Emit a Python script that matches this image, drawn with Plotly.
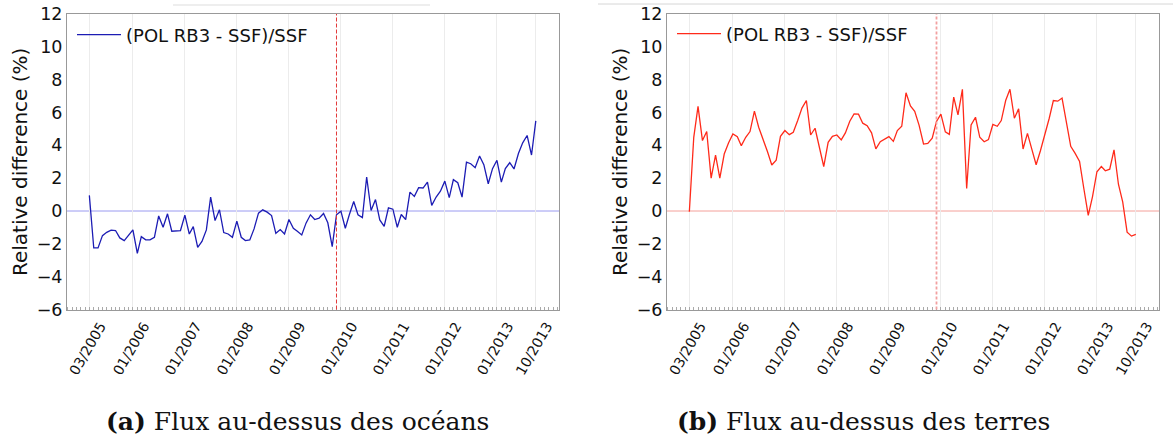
import pandas as pd
import plotly.graph_objects as go

# monthly values, 03/2005 -> 10/2013
months = pd.date_range("2005-03-01", "2013-10-01", freq="MS")

ocean_diff = [
    0.95, -2.25, -2.25, -1.50, -1.30, -1.17, -1.19, -1.64, -1.80, -1.46,
    -1.15, -2.58, -1.56, -1.76, -1.76, -1.60, -0.30, -0.99, -0.17, -1.23,
    -1.19, -1.19, -0.25, -1.40, -0.95, -2.21, -1.85, -1.15, 0.85, -0.58,
    0.07, -1.31, -1.40, -1.60, -0.62, -1.60, -1.80, -1.76, -1.09, -0.13,
    0.07, -0.07, -0.28, -1.36, -1.13, -1.40, -0.52, -1.05, -1.23, -1.46,
    -0.74, -0.23, -0.52, -0.44, -0.15, -0.72, -2.17, -0.23, -0.01, -1.05,
    -0.23, 0.58, -0.23, -0.40, 2.07, 0.03, 0.70, -0.54, -0.93, 0.19,
    0.11, -0.99, -0.21, -0.52, 1.15, 0.89, 1.42, 1.40, 1.76, 0.34,
    0.85, 1.21, 1.82, 0.81, 1.91, 1.72, 0.85, 2.97, 2.88, 2.64,
    3.35, 2.82, 1.66, 2.58, 3.09, 1.76, 2.58, 2.94, 2.56, 3.50,
    4.15, 4.60, 3.41, 5.49,
]

land_diff = [
    -0.05, 4.49, 6.37, 4.29, 4.84, 2.00, 3.41, 2.00, 3.47, 4.14,
    4.69, 4.53, 3.98, 4.49, 4.84, 6.08, 5.10, 4.39, 3.61, 2.80,
    3.10, 4.55, 4.90, 4.65, 4.80, 5.51, 6.27, 6.73, 4.63, 5.04,
    3.88, 2.71, 4.18, 4.55, 4.63, 4.33, 4.76, 5.47, 5.92, 5.90,
    5.35, 5.20, 4.76, 3.78, 4.22, 4.39, 4.53, 4.24, 4.90, 5.16,
    7.20, 6.40, 6.07, 5.22, 4.08, 4.12, 4.43, 5.45, 5.90, 4.82,
    4.67, 6.94, 5.86, 7.41, 1.37, 5.24, 5.71, 4.49, 4.22, 4.35,
    5.27, 5.16, 5.51, 6.73, 7.41, 5.65, 6.22, 3.78, 4.73, 3.78,
    2.82, 3.67, 4.59, 5.65, 6.73, 6.69, 6.88, 5.41, 3.94, 3.51,
    3.02, 1.37, -0.27, 0.88, 2.39, 2.71, 2.45, 2.55, 3.73, 1.63,
    0.55, -1.29, -1.53, -1.43,
]

tick_dates = ["2005-03-01", "2006-01-01", "2007-01-01", "2008-01-01", "2009-01-01",
              "2010-01-01", "2011-01-01", "2012-01-01", "2013-01-01", "2013-10-01"]
tick_labels = ["03/2005", "01/2006", "01/2007", "01/2008", "01/2009",
               "01/2010", "01/2011", "01/2012", "01/2013", "10/2013"]
split_date = "2009-12-01"
series_name = "(POL RB3 - SSF)/SSF"
captions = ["<b>(a)</b> Flux au-dessus des océans", "<b>(b)</b> Flux au-dessus des terres"]

W, H = 1173, 441
x_range = ["2004-09-25", "2014-03-13"]


def fx(p):
    return p / W


def fy(p):
    return 1 - p / H


fig = go.Figure()
fig.add_trace(go.Scatter(
    x=months, y=ocean_diff, mode="lines", name=series_name, showlegend=True,
    line=dict(color="#1c1cb4", width=1.3), xaxis="x", yaxis="y", legend="legend",
))
fig.add_trace(go.Scatter(
    x=months, y=land_diff, mode="lines", name=series_name, showlegend=True,
    line=dict(color="#ff2a1a", width=1.3), xaxis="x2", yaxis="y2", legend="legend2",
))

xcommon = dict(
    type="date", range=x_range, tickmode="array", tickvals=tick_dates, ticktext=tick_labels,
    tickangle=-60, tickfont=dict(family="DejaVu Sans", size=14, color="#111"),
    showgrid=True, gridcolor="#ececec", gridwidth=1,
    showline=True, linecolor="#999", linewidth=1, mirror=True, ticks="",
    ticklabelshift=11, ticklabelstandoff=2, automargin=False,
    minor=dict(tickmode="linear", tick0="2005-03-01", dtick="M1", ticks="inside",
               ticklen=3, tickcolor="#aaa", showgrid=False),
    zeroline=False,
)
ycommon = dict(
    range=[-6, 12], dtick=2, tick0=0, showgrid=False, automargin=False,
    tickfont=dict(family="DejaVu Sans", size=17.5, color="#111"),
    ticklabeloverflow="allow",
    showline=True, linecolor="#999", linewidth=1, mirror=True, ticks="",
    zeroline=False,
)

legend_style = dict(xanchor="left", yanchor="middle", itemwidth=44, bgcolor="rgba(0,0,0,0)",
                    font=dict(family="DejaVu Sans", size=18, color="#111"))

fig.update_layout(
    width=W, height=H, margin=dict(l=0, r=0, t=0, b=0, autoexpand=False),
    paper_bgcolor="white", plot_bgcolor="white", showlegend=True,
    xaxis=dict(domain=[fx(67), fx(559)], anchor="y", **xcommon),
    xaxis2=dict(domain=[fx(667), fx(1159)], anchor="y2", **xcommon),
    yaxis=dict(domain=[fy(309.5), fy(14)], anchor="x", **ycommon),
    yaxis2=dict(domain=[fy(309.5), fy(14)], anchor="x2", **ycommon),
    legend=dict(x=fx(72), y=fy(35), **legend_style),
    legend2=dict(x=fx(672), y=fy(34), **legend_style),
)

# zero reference lines
fig.add_shape(type="line", xref="x domain", yref="y", x0=0, x1=1, y0=0, y1=0,
              line=dict(color="#9a9af0", width=1), layer="below")
fig.add_shape(type="line", xref="x2 domain", yref="y2", x0=0, x1=1, y0=0, y1=0,
              line=dict(color="#f4a09a", width=1), layer="below")

# event marker
fig.add_shape(type="line", xref="x", yref="y domain", x0=split_date, x1=split_date, y0=0, y1=1,
              line=dict(color="#e23a3a", width=1, dash="4px,2px"))
fig.add_shape(type="line", xref="x2", yref="y2 domain", x0=split_date, x1=split_date, y0=0, y1=1,
              line=dict(color="#f2a0a0", width=1.8, dash="3px,2px"))

# faint page artefacts at the top
fig.add_shape(type="line", xref="paper", yref="paper", x0=fx(173), x1=fx(430), y0=fy(5), y1=fy(5),
              line=dict(color="#eeeeee", width=2))
fig.add_shape(type="line", xref="paper", yref="paper", x0=fx(598), x1=1, y0=fy(4), y1=fy(4),
              line=dict(color="#d6d6d6", width=1))

for xc in (20, 620):
    fig.add_annotation(text="Relative difference (%)", textangle=-90, showarrow=False,
                       xref="paper", yref="paper", x=fx(xc), y=fy(162),
                       xanchor="center", yanchor="middle",
                       font=dict(family="DejaVu Sans", size=20, color="#111"))

for txt, xc in zip(captions, (297, 863)):
    fig.add_annotation(text=txt, showarrow=False, xref="paper", yref="paper",
                       x=fx(xc), y=fy(421), xanchor="center", yanchor="middle",
                       font=dict(family="DejaVu Serif", size=25, color="#111"))

# drop the default 8px page margin so the figure sits at the window corner
fig.write_html("out.html", config={"displayModeBar": False},
               post_script="document.body.style.margin = '0';")
